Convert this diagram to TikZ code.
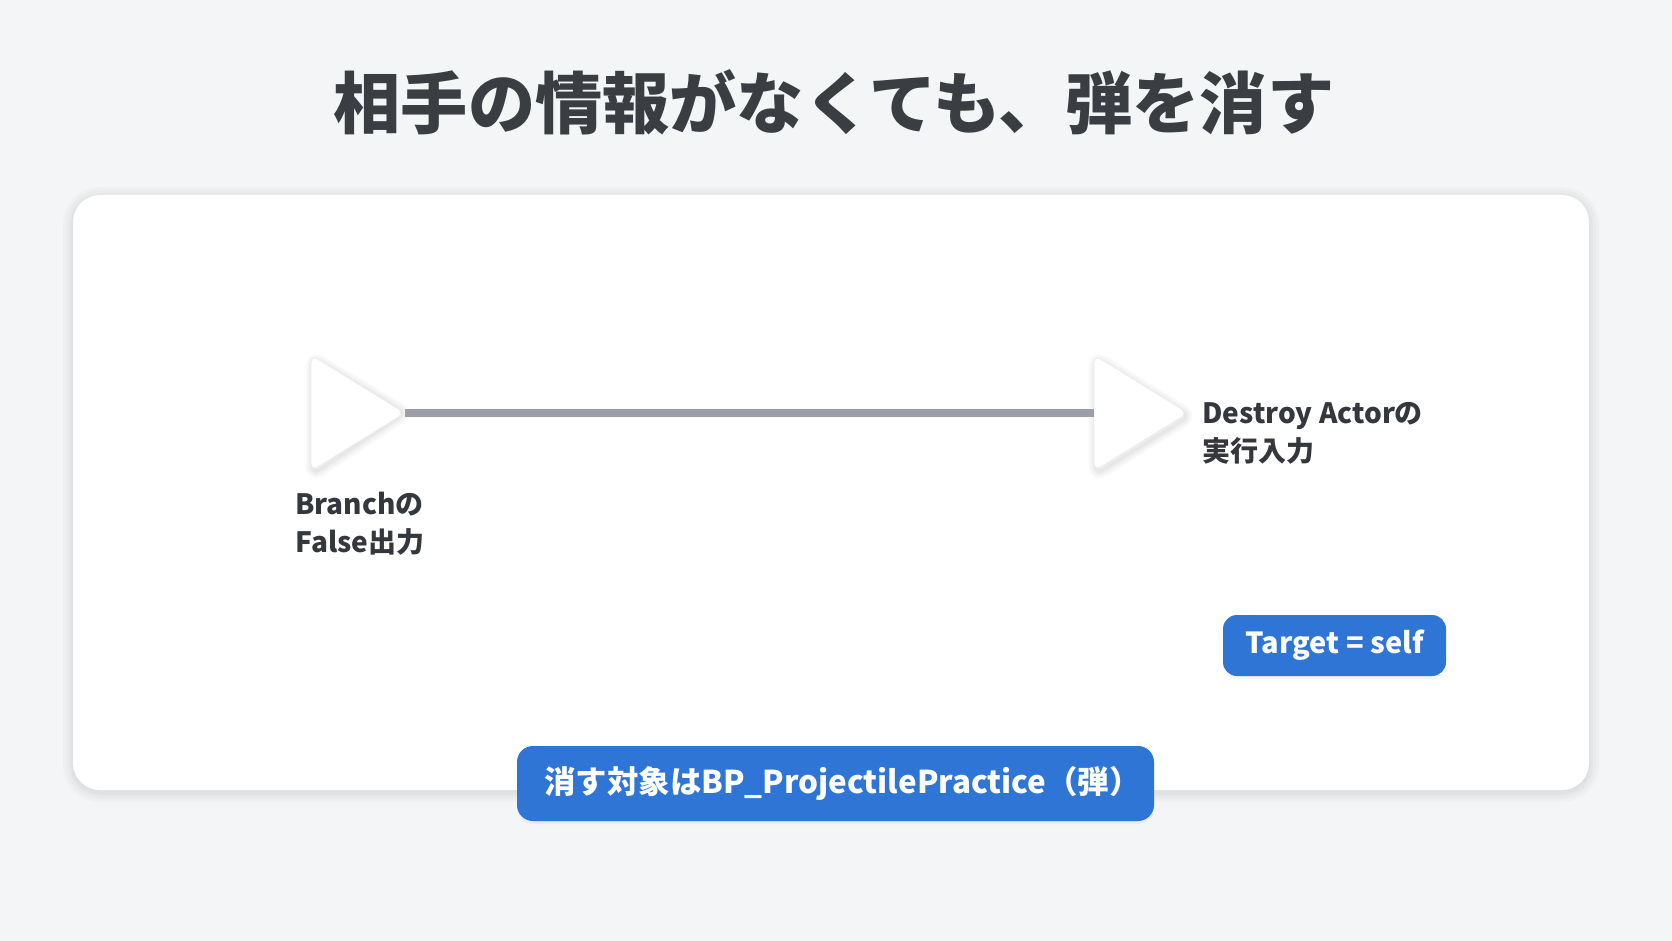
\documentclass[tikz,border=0pt]{standalone}
\usepackage{fontspec}
\setmainfont{Noto Sans CJK JP}
\usetikzlibrary{shadows}
\definecolor{bgc}{HTML}{F4F5F6}
\definecolor{titlec}{HTML}{3A3D42}
\definecolor{labelc}{HTML}{34373C}
\definecolor{bluec}{HTML}{2E75D6}
\definecolor{linec}{HTML}{9CA0A6}
\tikzset{
  halo/.style={draw=black, line join=round, rounded corners=4pt, opacity=0.025},
  pinshape/.style={fill=white, draw=black!7, line width=0.4pt, rounded corners=4pt},
  lbl/.style={anchor=west, align=left, text=labelc, inner sep=0pt,
    font={\fontsize{14pt}{19pt}\selectfont\bfseries}},
  tag/.style={fill=bluec, text=white, rounded corners=7pt, inner sep=0pt,
    drop shadow={opacity=0.08, shadow xshift=0pt, shadow yshift=-1.5pt}},
  wire/.style={draw=linec, line width=3.6pt}
}
\begin{document}
\begin{tikzpicture}[x=0.5pt,y=-0.5pt]
\useasboundingbox (0,0) rectangle (1672,941);
\fill[bgc] (0,0) rectangle (1672,941);
% card with soft shadow
\foreach \w in {10,7,4,2} {
  \draw[black, opacity=0.018, line width=\w pt, rounded corners=13.5pt] (73,197) rectangle (1589,792);
}
\path[fill=white, rounded corners=13.5pt] (73,195) rectangle (1589,790);
% title
\node (title) at (834,102) {\fontsize{33.6pt}{38pt}\selectfont\bfseries\color{titlec}相手の情報がなくても、弾を消す};
% pins
\coordinate (outtip) at (405,413);
\coordinate (inbase) at (1094,413);
\def\pinA{(311,355) -- (outtip) -- (311,471) -- cycle}
\def\pinB{(1094,355) -- (1188,413) -- (1094,471) -- cycle}
\foreach \w in {7,5,3,1.5} {
  \draw[halo, line width=\w pt, xshift=0.8pt, yshift=-1.6pt] \pinA;
  \draw[halo, line width=\w pt, xshift=0.8pt, yshift=-1.6pt] \pinB;
}
\path[pinshape] \pinA;
\path[pinshape] \pinB;
\draw[wire] (outtip) -- (inbase);
% labels
\node[lbl] (outlbl) at (295,524) {Branchの\\False出力};
\node[lbl] (inlbl) at (1202,433) {Destroy Actorの\\実行入力};
% tags
\node[tag, font={\fontsize{14.5pt}{18pt}\selectfont\bfseries}, minimum width=111.5pt, minimum height=30.5pt] (target) at (1334.5,645.5) {Target = self};
\node[tag, font={\fontsize{15.7pt}{18pt}\selectfont\bfseries}, rounded corners=8pt, minimum width=318.5pt, minimum height=37.5pt] (note) at (835.5,783.5) {\kern7pt 消す対象はBP\_ProjectilePractice（弾）};
\end{tikzpicture}
\end{document}
